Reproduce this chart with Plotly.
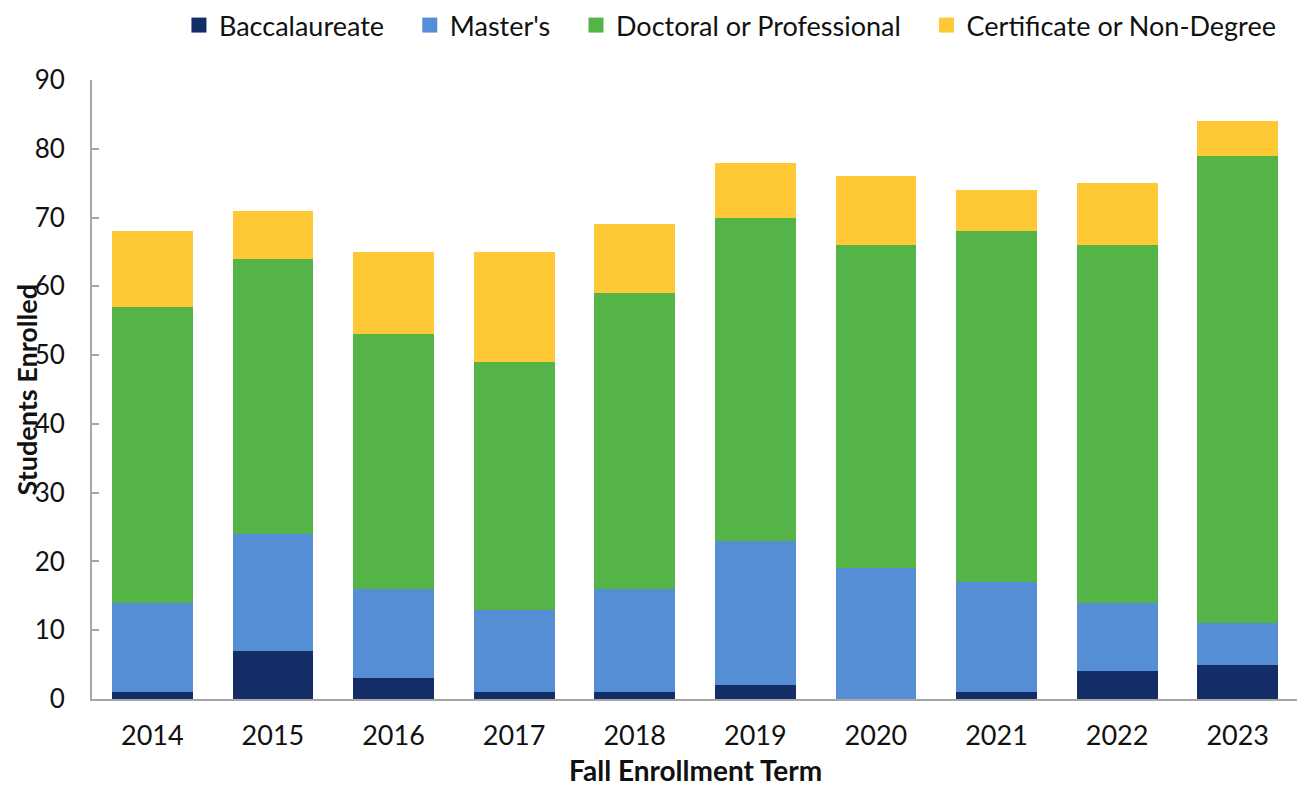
import plotly.graph_objects as go

years = ["2014", "2015", "2016", "2017", "2018", "2019", "2020", "2021", "2022", "2023"]
baccalaureate = [1, 7, 3, 1, 1, 2, 0, 1, 4, 5]
masters = [13, 17, 13, 12, 15, 21, 19, 16, 10, 6]
doctoral = [43, 40, 37, 36, 43, 47, 47, 51, 52, 68]
certificate = [11, 7, 12, 16, 10, 8, 10, 6, 9, 5]

series = [
    ("Baccalaureate", baccalaureate, "#142d66"),
    ("Master's", masters, "#558ed5"),
    ("Doctoral or Professional", doctoral, "#55b447"),
    ("Certificate or Non-Degree", certificate, "#ffc935"),
]
pad = "\u00a0\u00a0\u00a0"

fig = go.Figure()
for name, vals, color in series:
    fig.add_trace(go.Bar(x=years, y=vals, name=name, showlegend=False,
                         marker=dict(color=color, line=dict(width=0))))
for i, (name, vals, color) in enumerate(series):
    label = name + (pad if i < len(series) - 1 else "")
    fig.add_trace(go.Scatter(x=[None], y=[None], mode="markers", name=label,
                             marker=dict(symbol="square", size=15, color=color)))

fig.update_layout(
    barmode="stack",
    bargap=0.33,
    width=1305, height=788,
    margin=dict(l=84, r=15, t=72, b=97, autoexpand=False),
    paper_bgcolor="white", plot_bgcolor="white",
    font=dict(family="Lato", size=27, color="#111111"),
    legend=dict(orientation="h", x=0.0721, xanchor="left", y=1.088, yanchor="middle",
                font=dict(size=27), bgcolor="rgba(0,0,0,0)", traceorder="normal"),
    xaxis=dict(showline=True, linecolor="#a6a6a6", linewidth=2, ticks="", automargin=False,
               ticklabelstandoff=12, tickfont=dict(size=27)),
    yaxis=dict(range=[0, 90], dtick=10, showgrid=False, zeroline=False, automargin=False,
               showline=True, linecolor="#a6a6a6", linewidth=2,
               ticks="inside", ticklen=7, tickcolor="#a6a6a6", tickwidth=2,
               ticklabelstandoff=20, tickfont=dict(size=26)),
    annotations=[
        dict(text="<b>Fall Enrollment Term</b>", xref="paper", yref="paper", x=0.5, y=-0.1145,
             xanchor="center", yanchor="middle", showarrow=False, font=dict(size=28)),
        dict(text="<b>Students Enrolled</b>", xref="paper", yref="paper", x=-0.0547, y=0.5,
             xanchor="center", yanchor="middle", textangle=-90, showarrow=False, font=dict(size=27)),
    ],
)

fig.write_html("out.html")
